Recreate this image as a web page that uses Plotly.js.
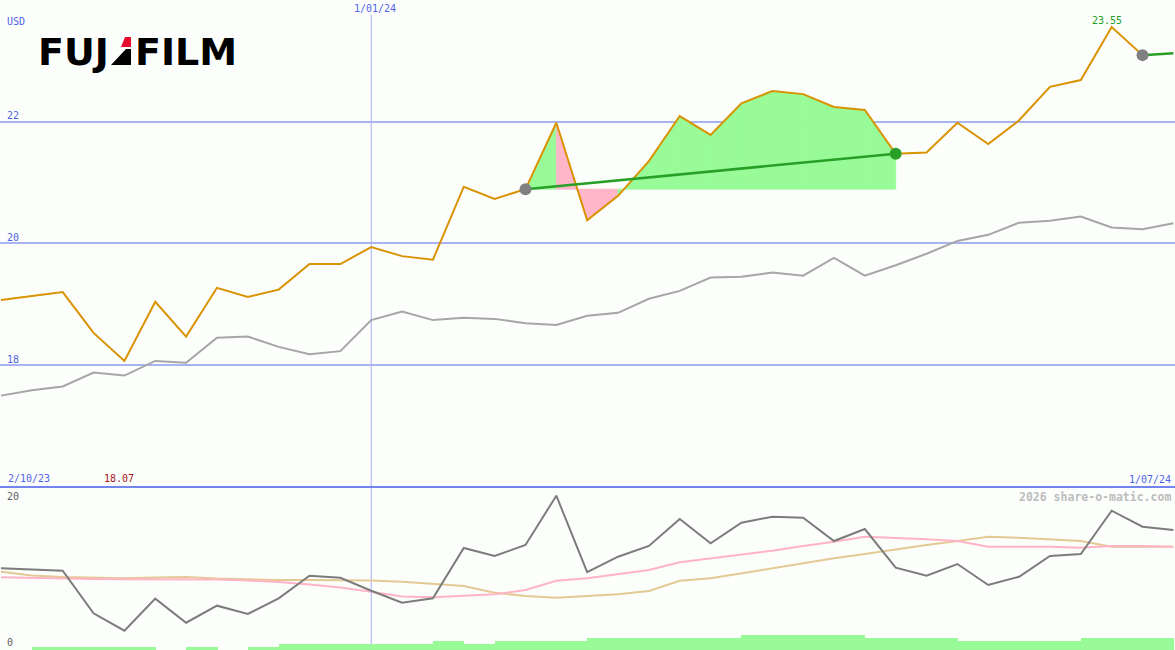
<!DOCTYPE html>
<html><head><meta charset="utf-8">
<script src="https://cdn.plot.ly/plotly-3.0.1.min.js"></script>
<style>html,body{margin:0;padding:0;background:#fcfefc;}#chart{width:1175px;height:650px;}</style>
</head><body><div id="chart"></div>
<script>
// ---- data ----
const weeks = ['2023-10-09','2023-10-16','2023-10-23','2023-10-30','2023-11-06','2023-11-13','2023-11-20','2023-11-27',
  '2023-12-04','2023-12-11','2023-12-18','2023-12-25','2024-01-01','2024-01-08','2024-01-15','2024-01-22','2024-01-29',
  '2024-02-05','2024-02-12','2024-02-19','2024-02-26','2024-03-04','2024-03-11','2024-03-18','2024-03-25','2024-04-01',
  '2024-04-08','2024-04-15','2024-04-22','2024-04-29','2024-05-06','2024-05-13','2024-05-20','2024-05-27','2024-06-03',
  '2024-06-10','2024-06-17','2024-06-24','2024-07-01'];
const price = [19.07,19.13,19.20,18.53,18.07,19.04,18.47,19.27,19.12,19.24,19.66,19.66,19.94,19.79,19.73,20.93,20.73,20.89,
  21.98,20.38,20.78,21.35,22.09,21.78,22.30,22.50,22.45,22.24,22.19,21.47,21.49,21.98,21.63,22.02,22.57,22.68,23.55,23.09];
const index = [17.50,17.59,17.65,17.88,17.83,18.07,18.04,18.45,18.47,18.30,18.18,18.23,18.74,18.88,18.74,18.78,18.76,18.69,
  18.66,18.81,18.86,19.09,19.22,19.44,19.45,19.52,19.47,19.76,19.47,19.64,19.83,20.04,20.14,20.34,20.37,20.44,20.26,20.23,20.33];
const openLine = [23.09, 23.12];            // last trade line, week 37 -> 38
const buyWeek = 17, sellWeek = 29, lastBuyWeek = 37;
const momentum = [10.78,10.60,10.45,4.62,2.23,6.62,3.33,5.66,4.52,6.67,9.77,9.49,7.71,6.07,6.67,13.56,12.47,13.97,20.73,
  10.27,12.37,13.84,17.53,14.21,17.03,17.85,17.71,14.52,16.16,10.86,9.77,11.37,8.49,9.63,12.47,12.74,18.67,16.48,16.03];
const avgShort = [9.55,9.45,9.41,9.32,9.27,9.27,9.27,9.25,9.11,8.90,8.56,8.15,7.58,6.92,6.81,7.03,7.22,7.81,9.08,9.41,9.96,
  10.55,11.60,12.15,12.60,13.19,13.84,14.42,15.11,14.97,14.75,14.52,13.74,13.74,13.74,13.60,13.84,13.84,13.74];
const avgLong = [10.32,9.79,9.59,9.48,9.41,9.52,9.59,9.38,9.25,9.18,9.18,9.18,9.11,8.95,8.63,8.36,7.44,6.99,6.75,7.03,7.22,
  7.67,9.08,9.41,10.10,10.78,11.55,12.15,12.74,13.38,13.97,14.52,15.11,14.97,14.79,14.52,13.74,13.74,13.74];
const volume = [0,1,1,1,1,0,1,0,1,2,2,2,2,2,3,2,3,3,3,4,4,4,4,4,5,5,5,5,4,4,4,3,3,3,3,4,4,4];
const priceTicks = [18, 20, 22];
const lowerTicks = [0, 20];
const markerDate = '2024-01-01';
const markerLabel = '1/01/24';
const startLabel = '2/10/23';
const endLabel = '1/07/24';
const currency = 'USD';
const brand = ['FUJ', 'FILM'];
const credit = '2026 share-o-matic.com';

// ---- helpers (layout positions in pixels) ----
const W = 1175, H = 650;
const PX = x => x / W, PY = y => 1 - y / H;
const split = 487;
const blue = '#5064e6', mono = 'DejaVu Sans Mono';
const GREEN_FILL = '#98fb98', PINK_FILL = '#ffb6c8';

const traces = [];
// performance fill, one polygon per week interval
const base = price[buyWeek];
for (let i = buyWeek; i < sellWeek; i++) {
  const col = price[i + 1] > base ? GREEN_FILL : PINK_FILL;
  traces.push({type:'scatter', mode:'lines', xaxis:'x', yaxis:'y',
    x:[weeks[i], weeks[i], weeks[i+1], weeks[i+1], weeks[i]],
    y:[base, price[i], price[i+1], base, base],
    fill:'toself', fillcolor: col, line:{width:0.8, color:col}, hoverinfo:'skip'});
}
traces.push({type:'scatter', mode:'lines', x:weeks, y:index, xaxis:'x', yaxis:'y',
  line:{color:'#a6a6a6', width:2}});
traces.push({type:'scatter', mode:'lines', x:weeks.slice(0, price.length), y:price, xaxis:'x', yaxis:'y',
  line:{color:'#d99200', width:2}});
traces.push({type:'scatter', mode:'lines', x:[weeks[buyWeek], weeks[sellWeek]], y:[price[buyWeek], price[sellWeek]],
  xaxis:'x', yaxis:'y', line:{color:'#28a028', width:2.5}});
traces.push({type:'scatter', mode:'lines', x:[weeks[lastBuyWeek], weeks[lastBuyWeek+1]], y:openLine,
  xaxis:'x', yaxis:'y', line:{color:'#28a028', width:2.5}});
traces.push({type:'scatter', mode:'markers', x:[weeks[buyWeek], weeks[lastBuyWeek]], y:[price[buyWeek], price[lastBuyWeek]],
  xaxis:'x', yaxis:'y', marker:{color:'#808080', size:12}});
traces.push({type:'scatter', mode:'markers', x:[weeks[sellWeek]], y:[price[sellWeek]],
  xaxis:'x', yaxis:'y', marker:{color:'#28a028', size:12}});
// lower panel
traces.push({type:'bar', x:weeks.slice(0, volume.length), y:volume, xaxis:'x', yaxis:'y3',
  width:7*86400000 + 3600000*3, offset:0, marker:{color:GREEN_FILL, line:{width:0}}});
traces.push({type:'scatter', mode:'lines', x:weeks, y:avgLong, xaxis:'x', yaxis:'y2', line:{color:'#e4c994', width:2}});
traces.push({type:'scatter', mode:'lines', x:weeks, y:avgShort, xaxis:'x', yaxis:'y2', line:{color:'#ffb4c6', width:2}});
traces.push({type:'scatter', mode:'lines', x:weeks, y:momentum, xaxis:'x', yaxis:'y2', line:{color:'#7c7c7c', width:2}});

const maxV = Math.max(...price), minV = Math.min(...price);
const maxI = price.indexOf(maxV);

const ann = [];
const txt = (text, x, y, opts) => Object.assign({text, x, y, xref:'paper', yref:'paper', showarrow:false,
  xanchor:'left', yanchor:'middle', font:{family:mono, size:10, color:blue}}, opts || {});
ann.push(txt(currency, PX(5), PY(21.5)));
priceTicks.forEach(v => ann.push(txt(String(v), PX(5), v, {yref:'y', yshift:6})));
lowerTicks.forEach(v => ann.push(txt(String(v), PX(5), v, {yref:'y2', yshift:5, font:{family:mono, size:10, color:'#606060'}})));
ann.push(txt(markerLabel, markerDate, PY(9), {xref:'x', xanchor:'center', xshift:4}));
ann.push(txt(maxV.toFixed(2), weeks[maxI], PY(21), {xref:'x', xanchor:'center', xshift:-5, font:{family:mono, size:10, color:'#22a022'}}));
ann.push(txt(startLabel, PX(6), PY(478.5)));
ann.push(txt(minV.toFixed(2), PX(102), PY(478.5), {font:{family:mono, size:10, color:'#a81818'}}));
ann.push(txt(endLabel, PX(1173), PY(479), {xanchor:'right'}));
ann.push(txt(credit, PX(1173), PY(496.5), {xanchor:'right', font:{family:mono, size:11.5, color:'#bcbcbc', weight:'bold'}}));
ann.push(txt(brand[0], PX(36), PY(52), {font:{family:'DejaVu Sans', size:38, color:'#000', weight:'bold'}}));
ann.push(txt(brand[1], PX(133), PY(52), {font:{family:'DejaVu Sans', size:38, color:'#000', weight:'bold'}}));

const path = pts => 'M ' + pts.map(p => PX(p[0]) + ',' + PY(p[1])).join(' L ') + ' Z';
const shapes = [
  {type:'line', xref:'x', yref:'paper', x0:markerDate, x1:markerDate, y0:PY(645), y1:PY(15), line:{color:'#a4aef8', width:1}, layer:'below'},
  {type:'line', xref:'paper', yref:'paper', x0:0, x1:1, y0:PY(split), y1:PY(split), line:{color:'#7484ee', width:2}},
  {type:'path', xref:'paper', yref:'paper', path:path([[125,37],[131,37],[131,47],[121,47]]), fillcolor:'#e60d2e', line:{width:0}},
  {type:'path', xref:'paper', yref:'paper', path:path([[111,65],[131,65],[131,49],[126,49]]), fillcolor:'#000', line:{width:0}}
];

const layout = {
  width:W, height:H, margin:{l:0, r:0, t:0, b:0}, showlegend:false, hovermode:false,
  paper_bgcolor:'#fcfefc', plot_bgcolor:'#fcfefc',
  xaxis:{type:'date', range:['2023-10-08 18:33', '2024-07-01 08:53'], visible:false, showgrid:false, zeroline:false, anchor:'y2'},
  yaxis:{domain:[PY(split), 1], range:[16.0, 23.995], tickvals:priceTicks, showticklabels:false, ticks:'',
    showgrid:true, gridcolor:'#a8b4f2', gridwidth:2, zeroline:false, showline:false},
  yaxis2:{domain:[0, PY(split)], range:[-0.41, 21.92], visible:false, showgrid:false, zeroline:false},
  yaxis3:{overlaying:'y2', range:[0, (H - split) / 3], visible:false, showgrid:false, zeroline:false},
  annotations:ann, shapes:shapes, bargap:0
};
Plotly.newPlot('chart', traces, layout, {staticPlot:true, displayModeBar:false});
</script></body></html>
